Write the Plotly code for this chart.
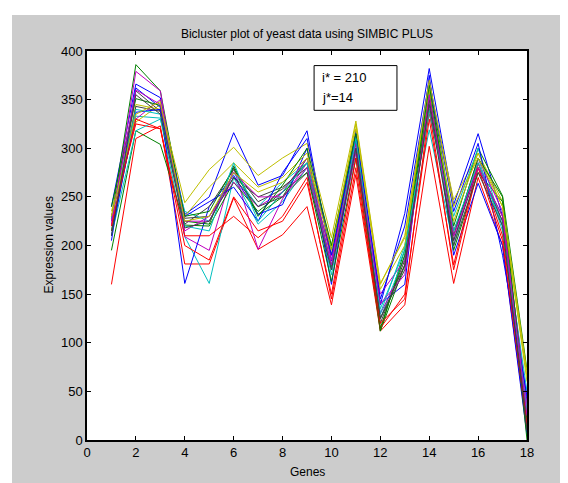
import plotly.graph_objects as go

genes = list(range(1, 19))

series_values = [
    [240, 366, 352, 232, 250, 316, 262, 272, 318, 184, 318, 139, 233, 382, 242, 315, 230, 40],
    [228, 386, 359, 225, 222, 282, 232, 250, 290, 196, 310, 112, 196, 370, 220, 300, 251, 72],
    [160, 310, 323, 181, 181, 249, 196, 211, 240, 139, 273, 112, 139, 302, 161, 270, 200, 10],
    [215, 333, 331, 209, 161, 270, 222, 245, 280, 170, 300, 125, 190, 319, 200, 290, 215, 25],
    [220, 379, 359, 209, 195, 280, 196, 248, 285, 175, 295, 130, 179, 350, 205, 285, 225, 20],
    [235, 327, 345, 244, 278, 301, 272, 290, 305, 208, 328, 161, 208, 365, 247, 295, 245, 70],
    [225, 359, 338, 228, 230, 270, 250, 260, 280, 190, 305, 120, 185, 355, 215, 280, 230, 15],
    [205, 362, 342, 161, 240, 272, 232, 242, 300, 160, 310, 140, 160, 375, 190, 264, 200, 5],
    [195, 318, 304, 221, 220, 265, 235, 255, 275, 163, 290, 112, 180, 360, 195, 275, 245, 0],
    [230, 325, 320, 210, 210, 230, 208, 230, 270, 145, 280, 115, 150, 330, 180, 285, 210, 30],
    [210, 318, 330, 235, 225, 275, 240, 265, 285, 180, 300, 130, 200, 335, 230, 300, 220, 50],
    [222, 330, 350, 215, 230, 265, 240, 255, 290, 185, 305, 150, 185, 345, 210, 290, 235, 35],
    [215, 345, 340, 230, 260, 285, 260, 270, 295, 200, 320, 155, 200, 360, 225, 295, 240, 60],
    [215, 343, 338, 222, 240, 278, 245, 258, 285, 178, 300, 125, 175, 350, 205, 280, 225, 10],
    [210, 337, 340, 230, 245, 260, 225, 275, 310, 190, 315, 145, 220, 370, 235, 305, 190, 45],
    [240, 351, 344, 230, 235, 280, 230, 262, 300, 200, 315, 115, 190, 365, 210, 290, 250, 20],
    [220, 330, 320, 200, 185, 250, 215, 225, 265, 150, 290, 120, 145, 340, 175, 280, 205, 15],
    [228, 340, 335, 220, 215, 285, 225, 255, 285, 175, 310, 135, 195, 340, 215, 285, 220, 30],
    [225, 360, 345, 225, 225, 275, 250, 250, 280, 180, 300, 140, 170, 355, 210, 280, 230, 25],
    [230, 335, 348, 225, 230, 275, 255, 265, 290, 195, 325, 160, 210, 370, 240, 290, 240, 65],
    [210, 355, 335, 218, 225, 270, 240, 250, 275, 175, 300, 125, 180, 345, 200, 275, 220, 10],
]

color_order = ["#0000FF", "#008000", "#FF0000", "#00BFBF", "#BF00BF", "#BFBF00", "#404040"]

x_ticks = list(range(0, 19, 2))
y_ticks = list(range(0, 401, 50))

title_text = "Bicluster plot of yeast data using SIMBIC PLUS"
x_label = "Genes"
y_label = "Expression values"
box_lines = ["i* = 210", "j*=14"]

W, H = 568, 483
L, R, T, B = 79, 49, 43, 51
pw, ph = W - L - R, H - T - B

def px_to_paper_x(px):
    return (px - L) / pw

def px_to_paper_y(py):
    return (H - B - py) / ph

font = "Liberation Sans, Arial, sans-serif"

fig = go.Figure()
for i, vals in enumerate(series_values):
    fig.add_trace(go.Scatter(
        x=genes, y=vals, mode="lines",
        line=dict(color=color_order[i % len(color_order)], width=1),
        showlegend=False, hoverinfo="skip",
    ))

axis_common = dict(
    showline=True, linecolor="black", linewidth=1.5, mirror="ticks",
    ticks="inside", ticklen=4, tickcolor="black", tickwidth=1,
    showgrid=False, zeroline=False,
    tickfont=dict(family=font, size=13, color="black"),
)

fig.update_layout(
    width=W, height=H,
    margin=dict(l=L, r=R, t=T, b=B),
    paper_bgcolor="#CCCCCC",
    plot_bgcolor="white",
    xaxis=dict(range=[0, 18], tickvals=x_ticks, **axis_common),
    yaxis=dict(range=[0, 400], tickvals=y_ticks, **axis_common),
    title=dict(text=title_text, x=0.5 * (L + L + pw) / W, xanchor="center",
               yref="container", y=1 - 26 / H, yanchor="middle",
               font=dict(family=font, size=12, color="black")),
    shapes=[
        dict(type="rect", xref="paper", yref="paper",
             x0=px_to_paper_x(0), x1=px_to_paper_x(4),
             y0=px_to_paper_y(H), y1=px_to_paper_y(0),
             fillcolor="white", line=dict(width=0), layer="above"),
        dict(type="rect", xref="paper", yref="paper",
             x0=px_to_paper_x(0), x1=px_to_paper_x(W),
             y0=px_to_paper_y(7), y1=px_to_paper_y(0),
             fillcolor="white", line=dict(width=0), layer="above"),
        dict(type="rect", xref="x", yref="y",
             x0=9.29, x1=12.68, y0=339, y1=385,
             fillcolor="white", line=dict(color="black", width=1), layer="above"),
    ],
    annotations=[
        dict(text=x_label, xref="paper", yref="paper", x=0.5, y=px_to_paper_y(464),
             showarrow=False, xanchor="center", yanchor="middle",
             font=dict(family=font, size=12, color="black")),
        dict(text=y_label, xref="paper", yref="paper", x=px_to_paper_x(40), y=0.5,
             showarrow=False, xanchor="center", yanchor="middle", textangle=-90,
             font=dict(family=font, size=12, color="black")),
        dict(text=box_lines[0], xref="x", yref="y", x=9.55, y=373,
             showarrow=False, xanchor="left", yanchor="middle",
             font=dict(family=font, size=13, color="black")),
        dict(text=box_lines[1], xref="x", yref="y", x=9.55, y=352,
             showarrow=False, xanchor="left", yanchor="middle",
             font=dict(family=font, size=13, color="black")),
    ],
)

fig.write_html("out.html")
